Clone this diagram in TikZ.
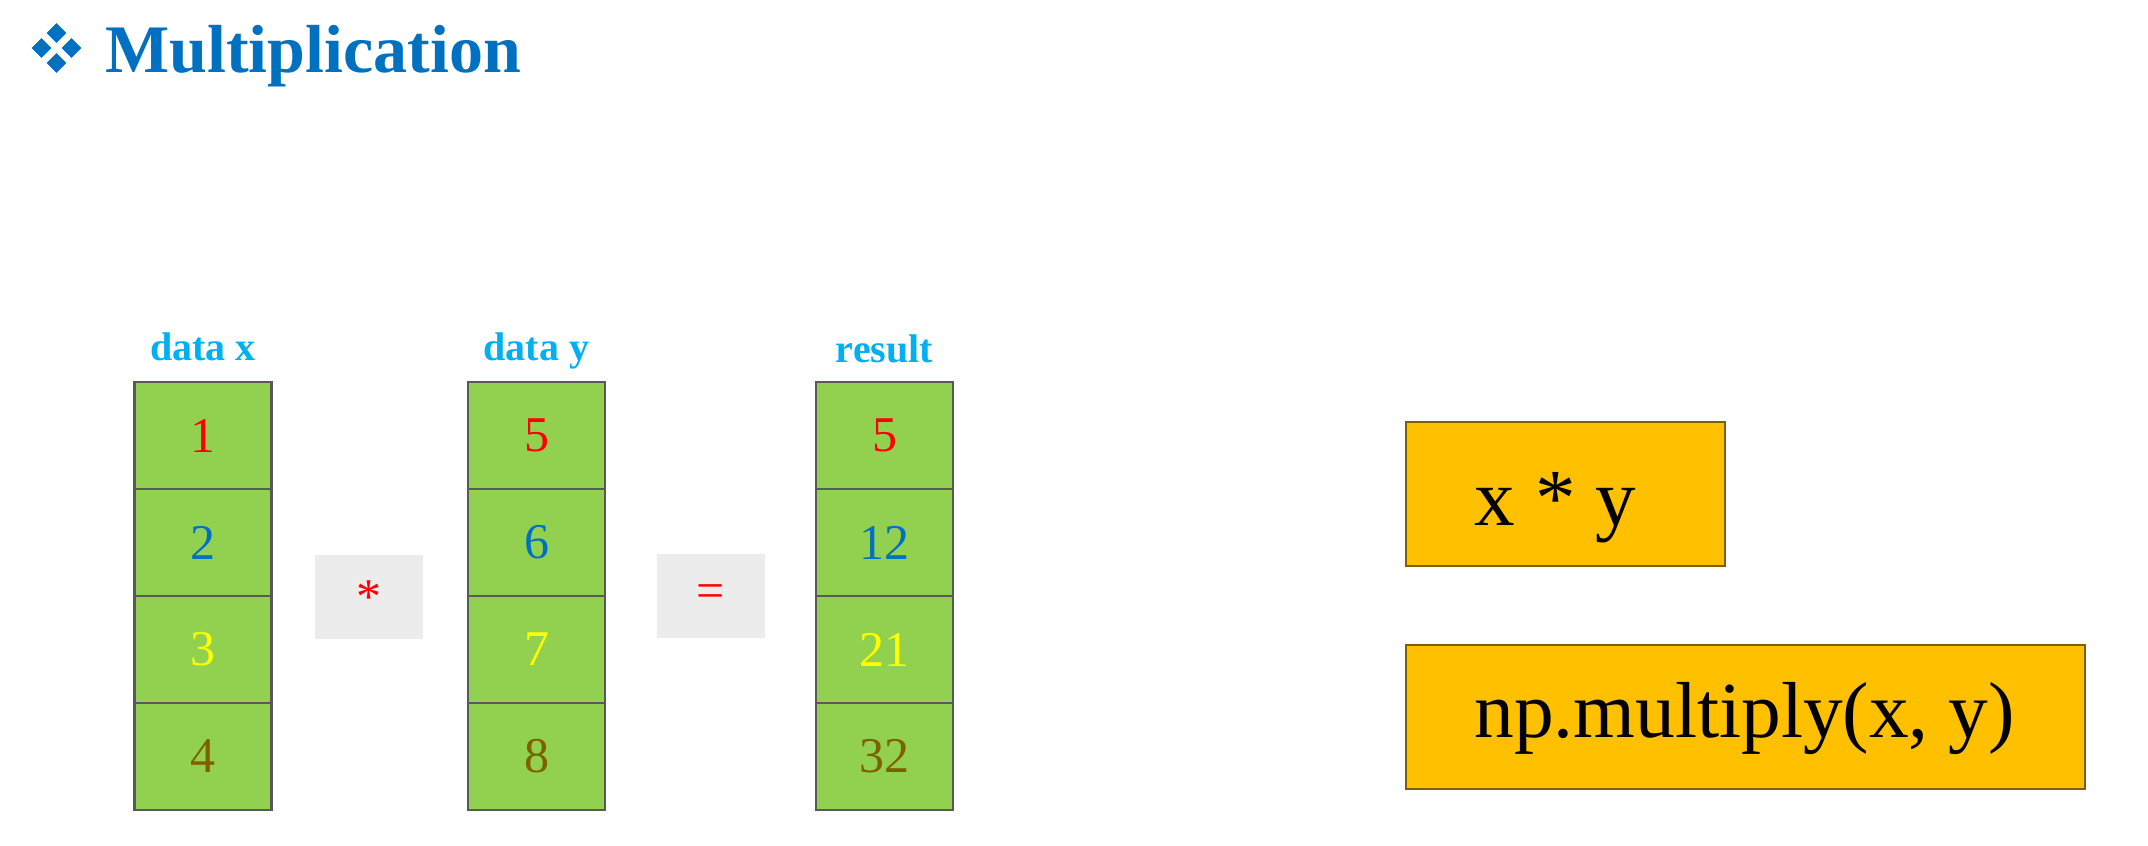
\documentclass[tikz,border=0pt]{standalone}
\usepackage{fontspec}
\setmainfont{Liberation Serif}
\definecolor{titleblue}{RGB}{0,112,192}
\definecolor{labelcyan}{RGB}{0,176,240}
\definecolor{cellgreen}{RGB}{146,208,80}
\definecolor{celledge}{RGB}{89,89,89}
\definecolor{numred}{RGB}{255,0,0}
\definecolor{numblue}{RGB}{0,112,192}
\definecolor{numyellow}{RGB}{255,255,0}
\definecolor{numbrown}{RGB}{127,96,0}
\definecolor{opgray}{RGB}{236,236,236}
\definecolor{orangefill}{RGB}{255,192,0}
\definecolor{orangeedge}{RGB}{127,96,0}
\tikzset{
  cell/.style={draw=celledge, line width=1.4pt, fill=cellgreen, minimum width=68.5pt, minimum height=53.5pt, inner sep=0pt, font=\fontsize{25}{30}\selectfont},
  collabel/.style={anchor=base, inner sep=0pt, text=labelcyan, font=\bfseries\fontsize{20}{24}\selectfont},
  opbox/.style={fill=opgray, minimum width=54pt, minimum height=42pt, inner sep=0pt, text=numred, font=\fontsize{25}{30}\selectfont},
  obox/.style={draw=orangeedge, line width=1pt, fill=orangefill, inner sep=0pt},
  otext/.style={anchor=base west, inner sep=0pt, font=\fontsize{40.5}{48}\selectfont},
  dia/.style={fill=titleblue, draw=none}
}
\begin{document}
\begin{tikzpicture}[x=0.5pt, y=-0.5pt]
\useasboundingbox (0,0) rectangle (2148,846);
% title marker
\foreach \cx/\cy in {56.5/33, 41.5/48, 71.5/48, 56.5/63}{
  \fill[dia] (\cx-9.8,\cy) -- (\cx,\cy-9.8) -- (\cx+9.8,\cy) -- (\cx,\cy+9.8) -- cycle;
}
\node[anchor=base west, inner sep=0pt, text=titleblue, font=\bfseries\fontsize{34}{40}\selectfont] (title) at (105,72) {Multiplication};
% column labels
\node[collabel] (lx) at (203,360) {data x};
\node[collabel] (ly) at (536.5,360) {data y};
\node[collabel] (lr) at (884.5,362) {result};
% data x
\node[cell, text=numred]    (x1) at (203,435.5) {1};
\node[cell, text=numblue]   (x2) at (203,542.5) {2};
\node[cell, text=numyellow] (x3) at (203,649.5) {3};
\node[cell, text=numbrown]  (x4) at (203,756.5) {4};
% data y
\node[cell, text=numred]    (y1) at (536.5,435.5) {5};
\node[cell, text=numblue]   (y2) at (536.5,542.5) {6};
\node[cell, text=numyellow] (y3) at (536.5,649.5) {7};
\node[cell, text=numbrown]  (y4) at (536.5,756.5) {8};
% result
\node[cell, text=numred]    (r1) at (884.5,435.5) {5};
\node[cell, text=numblue]   (r2) at (884.5,542.5) {12};
\node[cell, text=numyellow] (r3) at (884.5,649.5) {21};
\node[cell, text=numbrown]  (r4) at (884.5,756.5) {32};
% operators
\node[opbox] (mul) at (369,597) {*};
\node[opbox] (eq) at (711,596) {=};
% code boxes
\node[obox, minimum width=159.5pt, minimum height=72pt] (b1) at (1565.5,494) {};
\node[otext] (t1) at (1474,525) {x * y};
\node[obox, minimum width=339.5pt, minimum height=72pt] (b2) at (1745.5,717) {};
\node[otext, font=\fontsize{39.7}{48}\selectfont] (t2) at (1474,737) {np.multiply(x, y)};
\end{tikzpicture}
\end{document}
